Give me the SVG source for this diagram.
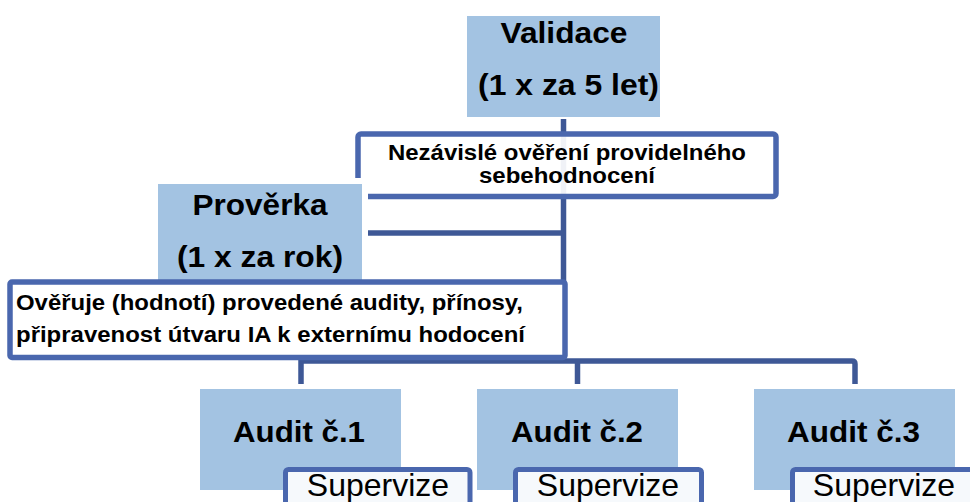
<svg xmlns="http://www.w3.org/2000/svg" width="970" height="502" viewBox="0 0 970 502">
  <style>
    .blue { fill: #A3C3E2; }
    .frame { fill: #FFFFFF; stroke: #4A67AE; stroke-width: 5.5; }
    .sub { fill: #F6F9FC; stroke: #4A67AE; stroke-width: 5; }
    .conn { fill: none; stroke: #3E5896; stroke-width: 5.5; }
    .big { font-family: "Liberation Sans", Arial, sans-serif; font-weight: bold; font-size: 30px; fill: #000; text-anchor: middle; }
    .mid { font-family: "Liberation Sans", Arial, sans-serif; font-weight: bold; font-size: 22px; fill: #000; }
    .sup { font-family: "Liberation Sans", Arial, sans-serif; font-size: 32px; fill: #000; text-anchor: middle; }
  </style>

  <rect width="970" height="502" fill="#FFFFFF"/>

  <!-- connectors -->
  <g id="connectors">
    <path class="conn" d="M563.5 119 V361"/>
    <path class="conn" d="M365 233 H563.5"/>
    <path class="conn" d="M301 384 V361 H852 Q855 361 855 364 V384"/>
    <path class="conn" d="M577.5 361 V384"/>
  </g>

  <!-- Validace -->
  <g id="validace">
    <rect class="blue" x="467" y="16" width="193" height="101"/>
    <text class="big" x="564" y="43" textLength="127" lengthAdjust="spacingAndGlyphs">Validace</text>
    <text class="big" x="568.5" y="95" textLength="181" lengthAdjust="spacingAndGlyphs">(1 x za 5 let)</text>
  </g>

  <!-- Nezávislé ověření -->
  <g id="nezavisle">
    <rect class="frame" x="358" y="134" width="418" height="62.5" rx="3" fill-opacity="0.92"/>
    <text class="mid" x="567" y="160" text-anchor="middle" textLength="358" lengthAdjust="spacingAndGlyphs">Nezávislé ověření providelného</text>
    <text class="mid" x="567" y="183" text-anchor="middle" textLength="176" lengthAdjust="spacingAndGlyphs">sebehodnocení</text>
  </g>

  <!-- Prověrka -->
  <g id="proverka">
    <rect x="152" y="178" width="216" height="110" fill="#FFFFFF"/>
    <rect class="blue" x="158" y="184" width="204" height="100"/>
    <text class="big" x="260" y="215" textLength="135" lengthAdjust="spacingAndGlyphs">Prověrka</text>
    <text class="big" x="260" y="267" textLength="166" lengthAdjust="spacingAndGlyphs">(1 x za rok)</text>
  </g>

  <!-- Ověřuje -->
  <g id="overuje">
    <rect class="frame" x="10" y="282" width="555" height="75.5" rx="2"/>
    <text class="mid" x="16" y="310" textLength="507" lengthAdjust="spacingAndGlyphs">Ověřuje (hodnotí) provedené audity, přínosy,</text>
    <text class="mid" x="16" y="342" textLength="509" lengthAdjust="spacingAndGlyphs">připravenost útvaru IA k externímu hodocení</text>
  </g>

  <!-- Audit č.1 -->
  <g id="audit1">
    <rect class="blue" x="200" y="389" width="201" height="101"/>
    <text class="big" x="299" y="442" textLength="132" lengthAdjust="spacingAndGlyphs">Audit č.1</text>
  </g>

  <!-- Audit č.2 -->
  <g id="audit2">
    <rect class="blue" x="477" y="389" width="201" height="101"/>
    <text class="big" x="577" y="442" textLength="132" lengthAdjust="spacingAndGlyphs">Audit č.2</text>
  </g>

  <!-- Audit č.3 -->
  <g id="audit3">
    <rect class="blue" x="754" y="389" width="201" height="101"/>
    <text class="big" x="853.5" y="442" textLength="133" lengthAdjust="spacingAndGlyphs">Audit č.3</text>
  </g>

  <!-- Supervize boxes -->
  <g id="supervize1">
    <rect class="sub" x="285.5" y="469.5" width="184.5" height="45" rx="3"/>
    <text class="sup" x="378" y="496">Supervize</text>
  </g>
  <g id="supervize2">
    <rect class="sub" x="515.5" y="469.5" width="186" height="45" rx="3"/>
    <text class="sup" x="608" y="496">Supervize</text>
  </g>
  <g id="supervize3">
    <rect class="sub" x="792.5" y="469.5" width="186" height="45" rx="3"/>
    <text class="sup" x="884" y="496">Supervize</text>
  </g>
</svg>
